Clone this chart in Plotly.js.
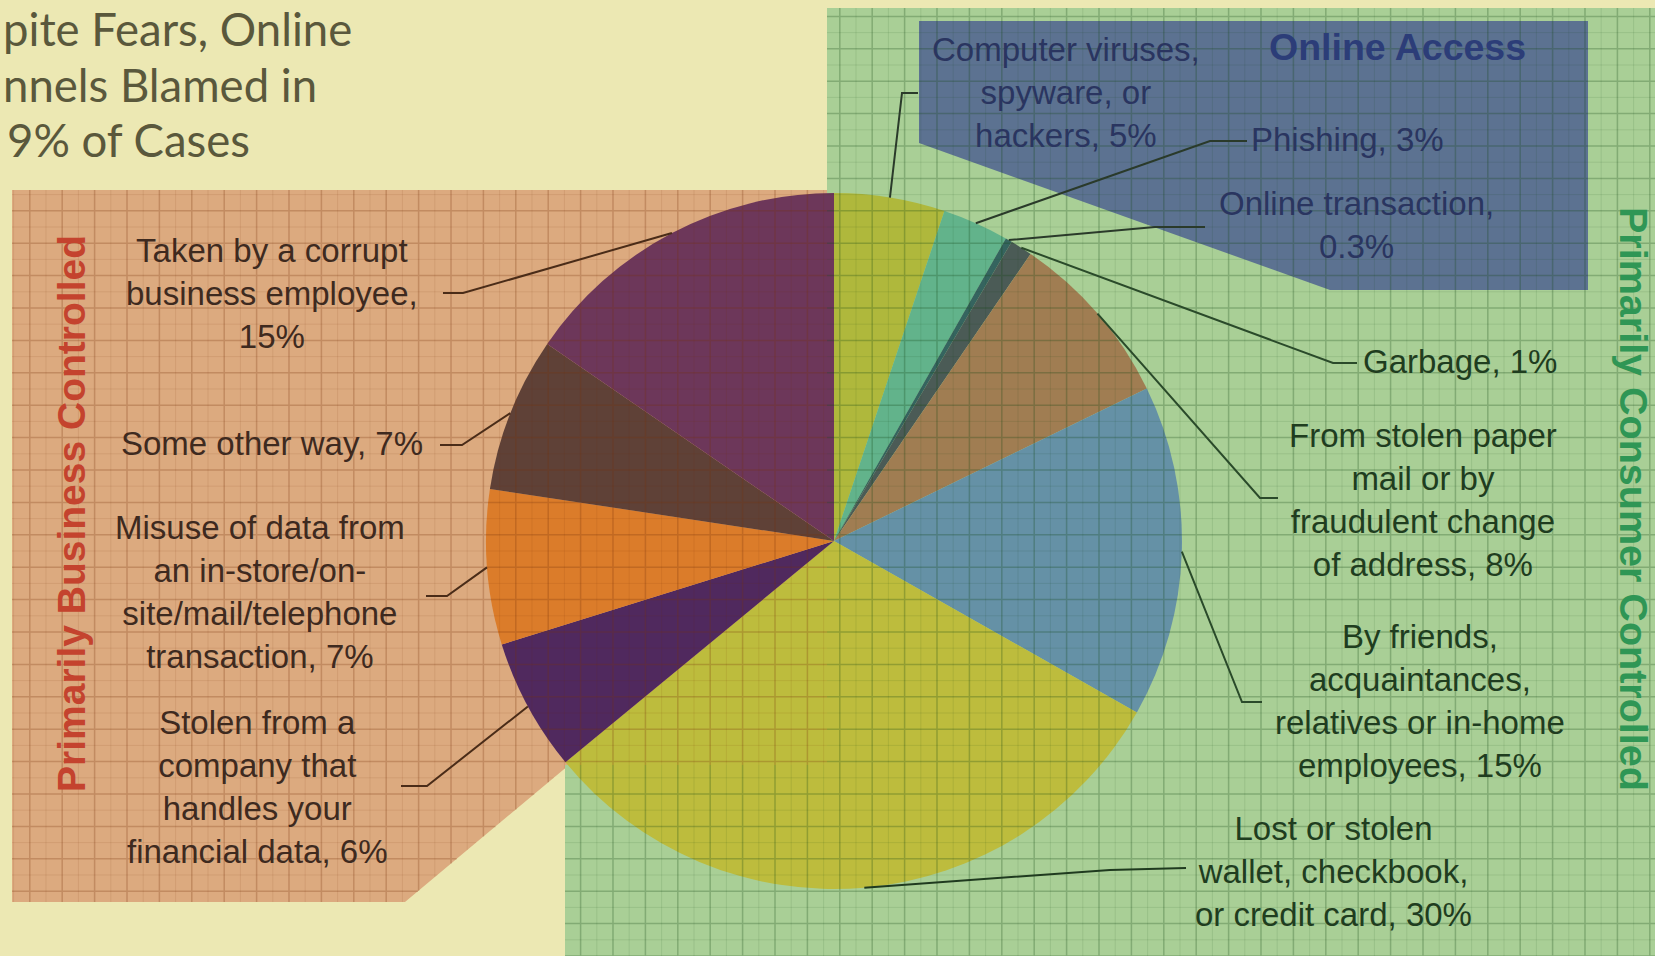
<!DOCTYPE html>
<html><head><meta charset="utf-8">
<script src="https://cdn.plot.ly/plotly-3.0.1.min.js"></script>
<style>html,body{margin:0;padding:0;background:#ece8b3;overflow:hidden}#chart{width:1655px;height:956px}</style>
</head><body><div id="chart"></div>
<script>
// ---------- data ----------
const categories = [
  "Computer viruses, spyware, or hackers",
  "Phishing",
  "Online transaction",
  "Garbage",
  "From stolen paper mail or by fraudulent change of address",
  "By friends, acquaintances, relatives or in-home employees",
  "Lost or stolen wallet, checkbook, or credit card",
  "Stolen from a company that handles your financial data",
  "Misuse of data from an in-store/on-site/mail/telephone transaction",
  "Some other way",
  "Taken by a corrupt business employee"
];
const shares = [5, 3, 0.3, 1, 8, 15, 30, 6, 7, 7, 15];
const labelTemplates = [
  "Computer viruses,<br>spyware, or<br>hackers, {v}%",
  "Phishing, {v}%",
  "Online transaction,<br>{v}%",
  "Garbage, {v}%",
  "From stolen paper<br>mail or by<br>fraudulent change<br>of address, {v}%",
  "By friends,<br>acquaintances,<br>relatives or in-home<br>employees, {v}%",
  "Lost or stolen<br>wallet, checkbook,<br>or credit card, {v}%",
  "Stolen from a<br>company that<br>handles your<br>financial data, {v}%",
  "Misuse of data from<br>an in-store/on-<br>site/mail/telephone<br>transaction, {v}%",
  "Some other way, {v}%",
  "Taken by a corrupt<br>business employee,<br>{v}%"
];
const sliceColors = ["#afb83c","#62b38b","#35645f","#4b5b56","#a07d52","#6591a6","#bdbc3d","#50295e","#db7c2a","#5f4137","#6d375a"];
// title as visible in the (left-cropped) picture
const titleLines = ["pite Fears, Online", "nnels Blamed in", "9% of Cases"];
const groupTitles = ["Primarily Business Controlled", "Primarily Consumer Controlled", "Online Access"];

// ---------- layout helpers (pixel space) ----------
const W = 1655, H = 956;
const fx = x => +(x / W).toFixed(5);
const fy = y => +(1 - y / H).toFixed(5);
const pie = {cx: 834, cy: 541, r: 348};

const regionOrange = [[12,190],[827,190],[827,765],[569,765],[405,902],[12,902]];
const regionGreen  = [[827,8],[1655,8],[1655,956],[565,956],[565,765],[827,765]];
const regionBlue   = [[919,21],[1588,21],[1588,290],[1330,290],[919,143]];

// label placement: text anchor and leader start/elbow (pixels)
const labelPos = [
  {x:1066, y:93,  xa:'center', c:'#2a3560', lead:[[918,93],[902,93]]},
  {x:1249, y:140, xa:'left',   c:'#2a3560', lead:[[1247,141],[1210,141]]},
  {x:1356, y:225, xa:'center', c:'#2a3560', lead:[[1205,227],[1155,227]]},
  {x:1361, y:362, xa:'left',   c:'#1f3d1f', lead:[[1357,363],[1333,363]]},
  {x:1423, y:500, xa:'center', c:'#1f3d1f', lead:[[1278,498],[1260,498]]},
  {x:1420, y:701, xa:'center', c:'#1f3d1f', lead:[[1262,702],[1242,702]]},
  {x:1334, y:871, xa:'center', c:'#1f3d1f', lead:[[1186,868],[1110,870]]},
  {x:257,  y:787, xa:'center', c:'#3e2a1f', lead:[[401,786],[427,786]]},
  {x:260,  y:592, xa:'center', c:'#3e2a1f', lead:[[426,596],[447,596]]},
  {x:272,  y:443, xa:'center', c:'#3e2a1f', lead:[[440,445],[462,445]]},
  {x:272,  y:293, xa:'center', c:'#3e2a1f', lead:[[443,293],[463,293]]}
];
const leadColors = ['#2a3a2a','#2a3a2a','#2a3a2a','#2a4a2a','#2a4a2a','#2a4a2a','#1f3a1f','#4a2c18','#4a2c18','#4a2c18','#4a2c18'];

function polyPath(poly){
  return poly.map((p,i)=>(i?'L':'M')+fx(p[0])+','+fy(p[1])).join('')+'Z';
}
function gridPath(poly, step, x0, y0){
  const xs = poly.map(p=>p[0]), ys = poly.map(p=>p[1]);
  const minX = Math.min(...xs), maxX = Math.max(...xs), minY = Math.min(...ys), maxY = Math.max(...ys);
  let d = '';
  for (let x = x0 + Math.ceil((minX - x0)/step)*step; x < maxX; x += step){
    const ints = [];
    for (let i=0;i<poly.length;i++){
      const a = poly[i], b = poly[(i+1)%poly.length];
      if ((a[0] <= x && b[0] > x) || (b[0] <= x && a[0] > x)){
        ints.push(a[1] + (x-a[0])/(b[0]-a[0])*(b[1]-a[1]));
      }
    }
    ints.sort((p,q)=>p-q);
    for (let k=0;k+1<ints.length;k+=2) d += 'M'+fx(x)+','+fy(ints[k])+'L'+fx(x)+','+fy(ints[k+1]);
  }
  for (let y = y0 + Math.ceil((minY - y0)/step)*step; y < maxY; y += step){
    const ints = [];
    for (let i=0;i<poly.length;i++){
      const a = poly[i], b = poly[(i+1)%poly.length];
      if ((a[1] <= y && b[1] > y) || (b[1] <= y && a[1] > y)){
        ints.push(a[0] + (y-a[1])/(b[1]-a[1])*(b[0]-a[0]));
      }
    }
    ints.sort((p,q)=>p-q);
    for (let k=0;k+1<ints.length;k+=2) d += 'M'+fx(ints[k])+','+fy(y)+'L'+fx(ints[k+1])+','+fy(y);
  }
  return d;
}

// pie edge point at each slice's middle angle (from the data)
const total = shares.reduce((a,b)=>a+b,0);
let cum = 0;
const midPts = shares.map(v=>{
  const a = (cum + v/2)/total*2*Math.PI; cum += v;
  return [pie.cx + pie.r*Math.sin(a), pie.cy - pie.r*Math.cos(a)];
});

const STEP = 32.4, GX = 613, GY = 632;
const shapes = [];
shapes.push({type:'path', path:polyPath(regionOrange), xref:'paper', yref:'paper', fillcolor:'#dcaa7f', line:{width:0}, layer:'below'});
shapes.push({type:'path', path:polyPath(regionGreen), xref:'paper', yref:'paper', fillcolor:'#a9cf96', line:{width:0}, layer:'below'});
shapes.push({type:'path', path:polyPath(regionBlue), xref:'paper', yref:'paper', fillcolor:'#5c7291', line:{width:0}, layer:'below'});
// grids
shapes.push({type:'path', path:gridPath(regionOrange, STEP, GX, GY), xref:'paper', yref:'paper', line:{color:'rgba(120,50,10,0.26)', width:1.5}, layer:'above'});
shapes.push({type:'path', path:gridPath(regionOrange, STEP, GX+STEP/2, GY+STEP/2), xref:'paper', yref:'paper', line:{color:'rgba(120,50,10,0.10)', width:1}, layer:'above'});
shapes.push({type:'path', path:gridPath(regionGreen, STEP, GX, GY), xref:'paper', yref:'paper', line:{color:'rgba(20,70,20,0.26)', width:1.5}, layer:'above'});
shapes.push({type:'path', path:gridPath(regionGreen, STEP, GX+STEP/2, GY+STEP/2), xref:'paper', yref:'paper', line:{color:'rgba(20,70,20,0.10)', width:1}, layer:'above'});
// leaders
labelPos.forEach((L,i)=>{
  const pts = [L.lead[0], L.lead[1], midPts[i]];
  shapes.push({type:'path', path:pts.map((p,k)=>(k?'L':'M')+fx(p[0])+','+fy(p[1])).join(''), xref:'paper', yref:'paper', line:{color:leadColors[i], width:2}, layer:'above'});
});

const ann = [];
const LF = 'Liberation Sans, Arial, sans-serif';
labelTemplates.forEach((t,i)=>{
  const L = labelPos[i];
  ann.push({text:t.replace('{v}', shares[i]), x:fx(L.x), y:fy(L.y), xref:'paper', yref:'paper', xanchor:L.xa, yanchor:'middle', align:'center', showarrow:false, font:{family:LF, size:33, color:L.c}});
});
const titleStarts = [[1,28],[1,84],[5,140]];
titleLines.forEach((t,i)=>{
  ann.push({text:t, x:fx(titleStarts[i][0]), y:fy(titleStarts[i][1]), xref:'paper', yref:'paper', xanchor:'left', yanchor:'middle', showarrow:false, font:{family:'Lato, Open Sans, sans-serif', size:45.5, color:'#5a583c'}});
});
ann.push({text:groupTitles[0], x:fx(72), y:fy(513), xref:'paper', yref:'paper', xanchor:'center', yanchor:'middle', textangle:-90, showarrow:false, font:{family:LF, size:39, weight:'bold', color:'#c4432e'}});
ann.push({text:groupTitles[1], x:fx(1634), y:fy(499), xref:'paper', yref:'paper', xanchor:'center', yanchor:'middle', textangle:90, showarrow:false, font:{family:LF, size:39.5, weight:'bold', color:'#2f9655'}});
ann.push({text:'<b>'+groupTitles[2]+'</b>', x:fx(1398), y:fy(47), xref:'paper', yref:'paper', xanchor:'center', yanchor:'middle', showarrow:false, font:{family:LF, size:37.5, color:'#2c3d78'}});

const trace = {
  type:'pie', labels:categories, values:shares, sort:false, direction:'clockwise', rotation:0,
  marker:{colors:sliceColors, line:{width:0}}, textinfo:'none', hoverinfo:'skip', showlegend:false,
  domain:{x:[(pie.cx-pie.r)/W, (pie.cx+pie.r)/W], y:[(H-pie.cy-pie.r)/H, (H-pie.cy+pie.r)/H]}
};
Plotly.newPlot('chart', [trace], {
  width:W, height:H, margin:{l:0,r:0,t:0,b:0,pad:0}, paper_bgcolor:'#ece8b3', plot_bgcolor:'rgba(0,0,0,0)',
  showlegend:false, shapes:shapes, annotations:ann
}, {displayModeBar:false, staticPlot:true});
</script></body></html>
